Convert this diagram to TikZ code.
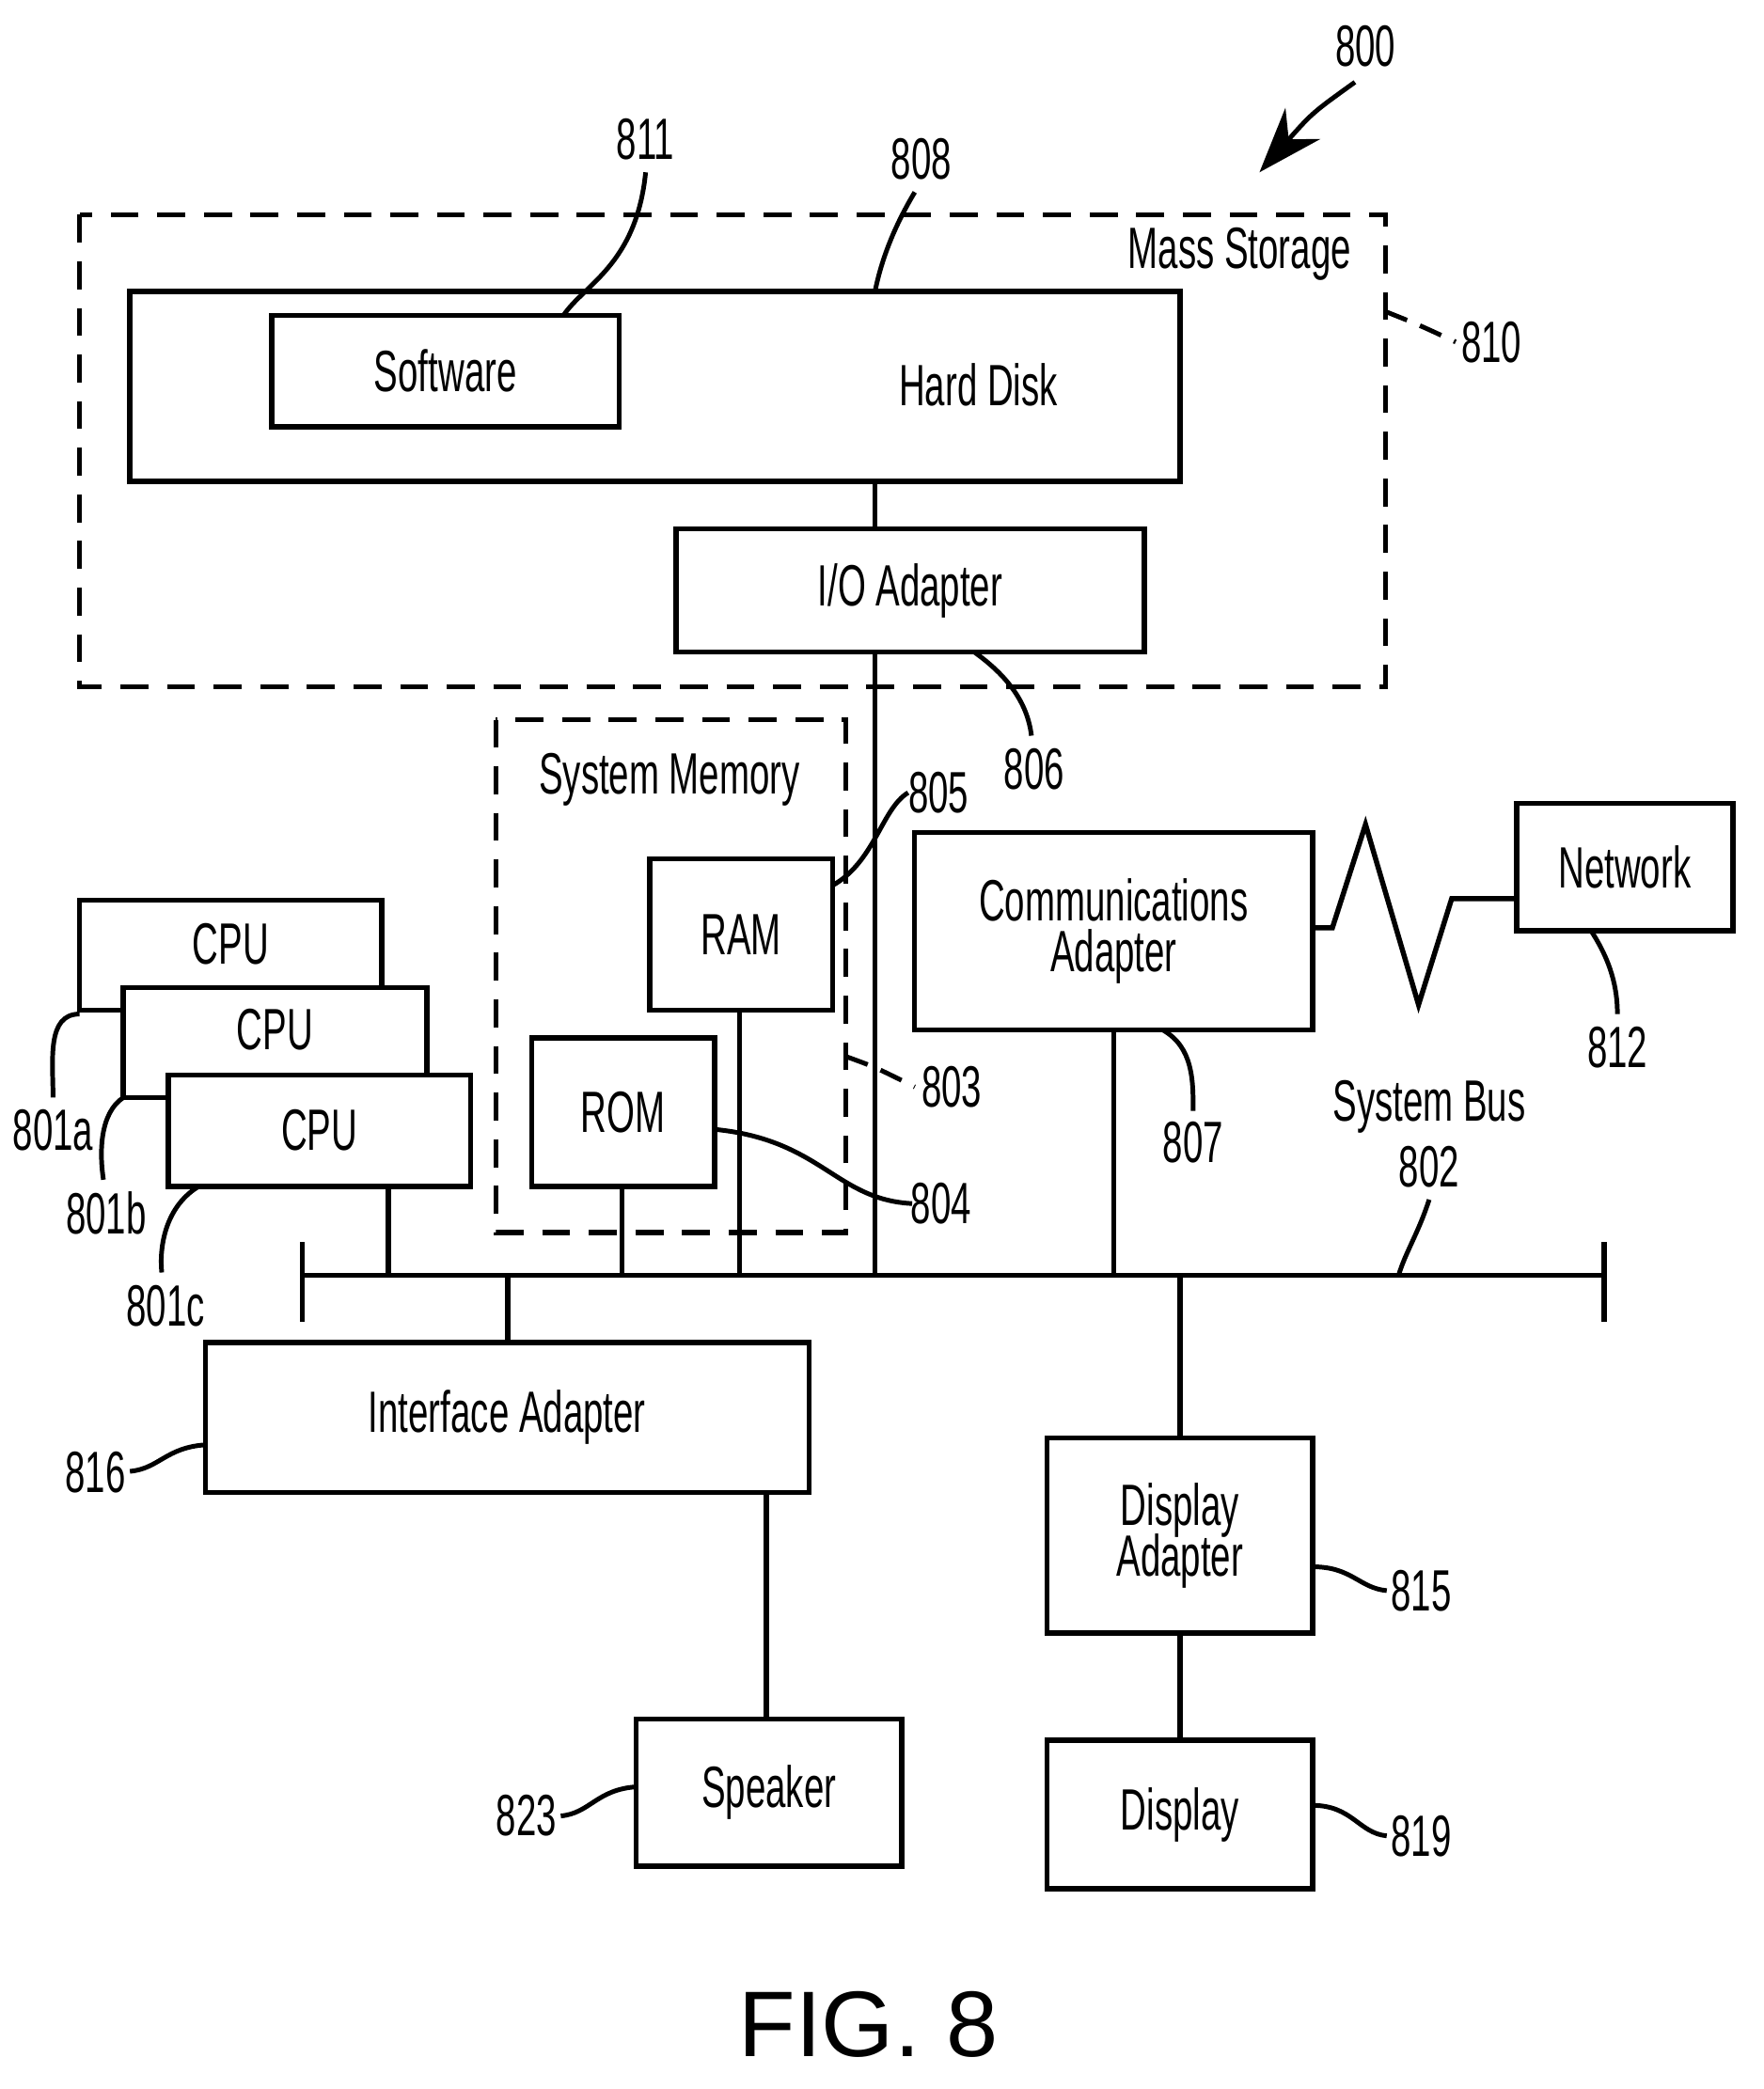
\documentclass[tikz,border=0pt]{standalone}
\usepackage{fontspec}
\setmainfont{Liberation Sans}[FakeStretch=0.62]
\newfontfamily\figfont{Liberation Sans}
\usetikzlibrary{arrows.meta}
\tikzset{
  box/.style={draw, line width=1.1pt},
  dbox/.style={draw, line width=1.1pt, dash pattern=on 6pt off 4pt},
  lead/.style={line width=1pt},
  lbl/.style={font=\fontsize{12.5}{14}\selectfont, inner sep=1pt}
}
\begin{document}
\begin{tikzpicture}[x=0.01cm, y=-0.01cm, line width=1.1pt]
        \useasboundingbox (0,0) rectangle (1330,1576);
        % Frames
        \draw[dbox] (60,162) rectangle (1045,518);
        \node[lbl] (msl) at (935,192) {Mass Storage};
        \draw[dbox] (374,543) rectangle (638,930);
        \node[lbl] (sml) at (505,588) {System Memory};

        % Boxes
        \draw[box] (98,220) rectangle (890,363);
        \node[lbl] (hd) at (738,290) {Hard Disk};
        \node[box, lbl, minimum width=2.62cm, minimum height=0.84cm] (sw) at (336,280) {Software};
        \node[box, lbl, minimum width=3.53cm, minimum height=0.93cm] (io) at (686.5,445.5) {I/O Adapter};
        \node[box, lbl, minimum width=1.38cm, minimum height=1.14cm] (ram) at (559,705) {RAM};
        \node[box, lbl, minimum width=1.38cm, minimum height=1.12cm] (rom) at (470,839) {ROM};
        \node[box, fill=white, minimum width=2.28cm, minimum height=0.83cm] (cpua) at (174,720.5) {};
        \node[lbl] at (174,712) {CPU};
        \node[box, fill=white, minimum width=2.29cm, minimum height=0.83cm] (cpub) at (207.5,786.5) {};
        \node[lbl] at (207.5,777) {CPU};
        \node[box, lbl, fill=white, minimum width=2.28cm, minimum height=0.84cm] (cpuc) at (241,853) {CPU};
        \node[box, lbl, align=center, minimum width=3cm, minimum height=1.49cm] (comm) at (840,702.5) {Communications\\[-3pt]Adapter};
        \node[box, lbl, minimum width=1.63cm, minimum height=0.96cm] (net) at (1225.5,654) {Network};
        \node[box, lbl, minimum width=4.55cm, minimum height=1.13cm] (ifa) at (382.5,1069.5) {Interface Adapter};
        \node[box, lbl, minimum width=2cm, minimum height=1.11cm] (spk) at (580,1352.5) {Speaker};
        \node[box, lbl, align=center, minimum width=2cm, minimum height=1.47cm] (dpa) at (890,1158.5) {Display\\[-3pt]Adapter};
        \node[box, lbl, minimum width=2cm, minimum height=1.12cm] (dsp) at (890,1369) {Display};

        % Bus
        \coordinate (busl) at (228,962);
        \coordinate (busr) at (1210,962);
        \draw (busl) -- (busr);
        \draw (228,937) -- (228,997);
        \draw (1210,937) -- (1210,997);

        % Connections
        \draw (660,363) -- (660,399);
        \draw (660,492) -- (660,962);
        \draw (558,762) -- (558,962);
        \draw (469,895) -- (469,962);
        \draw (293,895) -- (293,962);
        \draw (840,777) -- (840,962);
        \draw (383,962) -- (383,1013);
        \draw (578,1126) -- (578,1297);
        \draw (890,962) -- (dpa.north);
        \draw (dpa.south) -- (dsp.north);
        \draw (comm.east |- 0,700) -- (1005,700) -- (1030,622) -- (1070,758) -- (1095,678) -- (net.west |- 0,678);

        % Reference labels
        \node[lbl] (n800) at (1030,35) {800};
        \draw[lead, -{Stealth[length=14pt,width=10pt]}] (1022,62) .. controls (990,85) .. (950,130);
        \node[lbl] (n808) at (695,120) {808};
        \draw[lead] (690,145) .. controls (675,170) and (665,195) .. (660,220);
        \node[lbl] (n811) at (487,105) {811};
        \draw[lead] (487,130) .. controls (480,200) and (440,215) .. (425,238);
        \node[lbl] (n810) at (1125,258) {810};
        \draw[lead, dash pattern=on 5pt off 3pt] (1045,235) .. controls (1070,245) .. (1098,258);
        \node[lbl] (n806) at (780,580) {806};
        \draw[lead] (735,492) .. controls (760,510) and (775,530) .. (778,555);
        \node[lbl] (n805) at (708,598) {805};
        \draw[lead] (628,668) .. controls (660,650) and (665,610) .. (685,598);
        \node[lbl] (n803) at (718,820) {803};
        \draw[lead, dash pattern=on 5pt off 3pt] (638,797) .. controls (660,805) .. (690,820);
        \node[lbl] (n804) at (710,908) {804};
        \draw[lead] (539,852) .. controls (620,860) and (630,905) .. (688,908);
        \node[lbl] (n807) at (900,862) {807};
        \draw[lead] (877,777) .. controls (900,790) and (900,815) .. (900,838);
        \node[lbl] (n812) at (1220,790) {812};
        \draw[lead] (1200,702) .. controls (1215,725) and (1220,745) .. (1220,765);
        \node[lbl] (nsb) at (1078,835) {System Bus};
        \node[lbl] (n802) at (1078,880) {802};
        \draw[lead] (1078,905) .. controls (1070,930) and (1060,945) .. (1055,962);
        \node[lbl] (n801a) at (40,853) {801a};
        \draw[lead] (60,765) .. controls (35,765) and (40,800) .. (40,828);
        \node[lbl] (n801b) at (80,915) {801b};
        \draw[lead] (93,828) .. controls (75,840) and (75,870) .. (78,890);
        \node[lbl] (n801c) at (125,985) {801c};
        \draw[lead] (150,895) .. controls (125,910) and (120,940) .. (122,960);
        \node[lbl] (n816) at (72,1111) {816};
        \draw[lead] (155,1090) .. controls (125,1092) and (120,1108) .. (98,1110);
        \node[lbl] (n815) at (1072,1200) {815};
        \draw[lead] (990,1182) .. controls (1020,1182) and (1025,1198) .. (1046,1200);
        \node[lbl] (n823) at (397,1370) {823};
        \draw[lead] (480,1348) .. controls (450,1350) and (445,1368) .. (423,1370);
        \node[lbl] (n819) at (1072,1385) {819};
        \draw[lead] (990,1362) .. controls (1020,1362) and (1025,1383) .. (1046,1385);

        \node[font=\figfont\fontsize{20}{24}\selectfont] (fig) at (655,1527) {FIG. 8};
\end{tikzpicture}
\end{document}
